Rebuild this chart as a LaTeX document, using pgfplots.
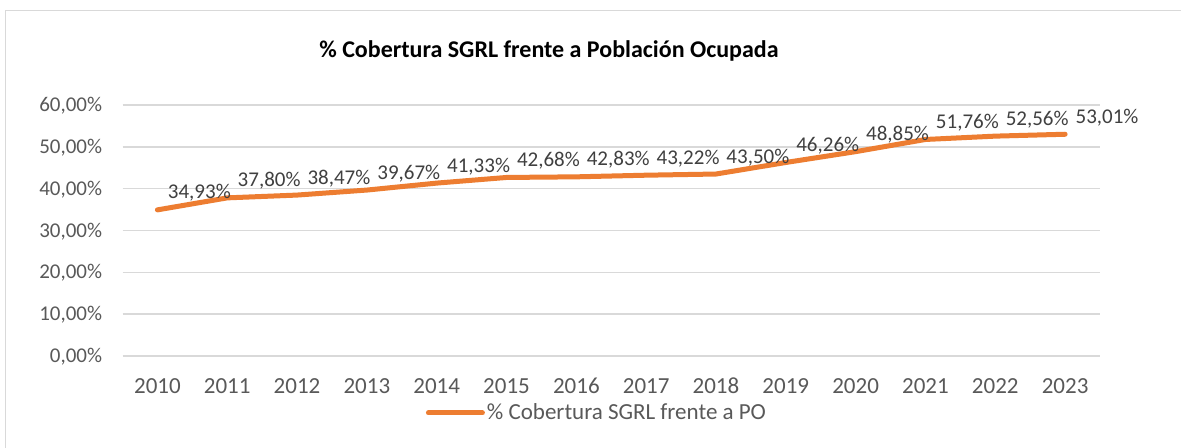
\documentclass[border=0pt]{standalone}
\usepackage{fontspec}
\setmainfont{Carlito}
\usepackage{pgfplots}
\pgfplotsset{compat=1.18}
\definecolor{orangeL}{HTML}{ED7D31}
\definecolor{gridc}{HTML}{D9D9D9}
\definecolor{tickc}{HTML}{595959}
\definecolor{labc}{HTML}{404040}
\begin{document}
\begin{tikzpicture}
\clip (0,0) rectangle (590.5pt,224pt);
\fill[white] (0,0) rectangle (590.5pt,224pt);
\draw[gridc, line width=0.75pt] (2.85pt,-10pt) rectangle (600pt,218.65pt);
\node[font=\fontsize{12pt}{14pt}\selectfont\bfseries, anchor=base, text=black] at (274.5pt,195pt) {\% Cobertura SGRL frente a Población Ocupada};
\begin{axis}[
  at={(61.25pt,46pt)}, anchor=south west,
  scale only axis, width=488.75pt, height=125.5pt,
  xmin=-0.5, xmax=13.5, ymin=0, ymax=60,
  /pgf/number format/assume math mode=true,
  xtick={0,1,2,3,4,5,6,7,8,9,10,11,12,13},
  xticklabels={2010,2011,2012,2013,2014,2015,2016,2017,2018,2019,2020,2021,2022,2023},
  ytick={0,10,20,30,40,50,60},
  yticklabels={{0,00\%},{10,00\%},{20,00\%},{30,00\%},{40,00\%},{50,00\%},{60,00\%}},
  ymajorgrids, grid style={gridc, line width=0.75pt},
  axis line style={draw=none}, major tick length=0pt,
  tick label style={font=\fontsize{10.5pt}{12pt}\selectfont, text=tickc, inner sep=0pt},
  xticklabel style={anchor=base, yshift=-18.6pt, font=\fontsize{11.5pt}{13pt}\selectfont},
  yticklabel style={anchor=base east, xshift=-10pt, yshift=-3.3pt},
  legend style={at={(0.31,-0.227)}, anchor=west, draw=none, fill=none, inner sep=0pt,
    font=\fontsize{11.5pt}{13pt}\selectfont, text=tickc, nodes={inner sep=1pt}},
  legend image code/.code={\draw[#1, line cap=round] (0pt,0pt) -- (27pt,0pt);},
  clip=false,
]
\addplot[orangeL, line width=2.5pt, line join=round, line cap=round, mark=none,
  point meta=y,
  nodes near coords={\pgfmathprintnumber[fixed,fixed zerofill,precision=2,use comma]{\pgfplotspointmeta}\%},
  every node near coord/.append style={anchor=base west, xshift=4pt, yshift=5.5pt, inner sep=0pt,
    font=\fontsize{10.5pt}{12pt}\selectfont, text=labc},
] coordinates {
  (0,34.93) (1,37.80) (2,38.47) (3,39.67) (4,41.33) (5,42.68) (6,42.83)
  (7,43.22) (8,43.50) (9,46.26) (10,48.85) (11,51.76) (12,52.56) (13,53.01)
};
\addlegendentry{\% Cobertura SGRL frente a PO}
\end{axis}
\end{tikzpicture}
\end{document}
